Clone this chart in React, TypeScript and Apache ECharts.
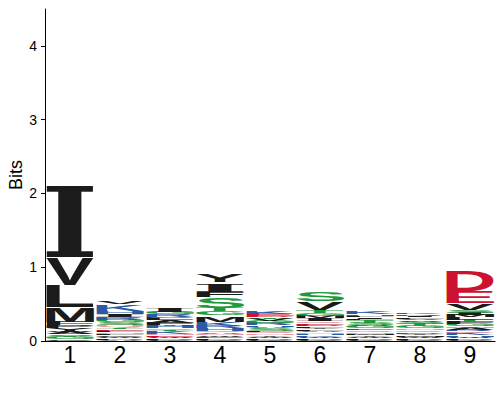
import { useEffect, useRef } from 'react';
import * as echarts from 'echarts';

const positions = ['1', '2', '3', '4', '5', '6', '7', '8', '9'];
const yTickValues = [0, 1, 2, 3, 4];

// letters of each column, bottom to top, with their heights in bits
const col1Letters = ['C', 'G', 'T', 'S', 'A', 'W', 'Y', 'P', 'F', 'M', 'L', 'V', 'I'];
const col1Bits = [0.02, 0.03, 0.02, 0.02, 0.03, 0.02, 0.03, 0.04, 0.05, 0.2, 0.3, 0.38, 0.97];
const col2Letters = ['A', 'P', 'W', 'C', 'L', 'N', 'F', 'E', 'T', 'Q', 'S', 'G', 'R', 'I', 'H', 'K', 'V'];
const col2Bits = [0.02, 0.02, 0.02, 0.02, 0.02, 0.02, 0.02, 0.02, 0.02, 0.04, 0.03, 0.04, 0.04, 0.04, 0.03, 0.1, 0.03];
const col3Letters = ['C', 'P', 'W', 'E', 'N', 'K', 'T', 'Q', 'H', 'Y', 'F', 'A', 'L', 'S', 'R', 'G', 'I'];
const col3Bits = [0.02, 0.02, 0.02, 0.02, 0.02, 0.03, 0.02, 0.02, 0.03, 0.02, 0.03, 0.03, 0.03, 0.02, 0.03, 0.04, 0.05];
const col4Letters = ['C', 'P', 'E', 'W', 'N', 'A', 'Q', 'H', 'R', 'K', 'M', 'G', 'T', 'S', 'F', 'I', 'Y'];
const col4Bits = [0.02, 0.02, 0.02, 0.02, 0.02, 0.02, 0.02, 0.03, 0.04, 0.05, 0.09, 0.05, 0.05, 0.15, 0.07, 0.13, 0.11];
const col5Letters = ['C', 'P', 'W', 'Y', 'N', 'Q', 'F', 'S', 'A', 'H', 'R', 'G', 'V', 'T', 'D', 'E', 'K'];
const col5Bits = [0.02, 0.02, 0.02, 0.02, 0.02, 0.02, 0.02, 0.03, 0.02, 0.02, 0.03, 0.03, 0.03, 0.02, 0.02, 0.03, 0.03];
const col6Letters = ['C', 'P', 'W', 'K', 'H', 'N', 'A', 'F', 'Y', 'L', 'D', 'E', 'Q', 'I', 'M', 'G', 'T', 'V', 'S'];
const col6Bits = [0.02, 0.02, 0.02, 0.02, 0.02, 0.02, 0.02, 0.02, 0.02, 0.02, 0.02, 0.02, 0.03, 0.04, 0.03, 0.04, 0.04, 0.12, 0.13];
const col7Letters = ['C', 'P', 'W', 'Y', 'M', 'N', 'Q', 'E', 'G', 'A', 'S', 'T', 'L', 'I', 'F', 'H', 'K'];
const col7Bits = [0.02, 0.02, 0.02, 0.02, 0.02, 0.02, 0.03, 0.02, 0.03, 0.02, 0.03, 0.03, 0.02, 0.02, 0.02, 0.02, 0.04];
const col8Letters = ['C', 'P', 'W', 'M', 'Y', 'D', 'Q', 'N', 'G', 'T', 'S', 'A', 'V', 'L', 'I', 'R', 'K'];
const col8Bits = [0.02, 0.02, 0.02, 0.02, 0.02, 0.02, 0.03, 0.02, 0.03, 0.03, 0.03, 0.02, 0.02, 0.02, 0.02, 0.02, 0.02];
const col9Letters = ['C', 'P', 'W', 'H', 'K', 'Q', 'R', 'A', 'N', 'G', 'F', 'T', 'L', 'M', 'I', 'S', 'V', 'E', 'D'];
const col9Bits = [0.02, 0.02, 0.02, 0.02, 0.03, 0.02, 0.02, 0.03, 0.02, 0.03, 0.03, 0.03, 0.03, 0.03, 0.03, 0.04, 0.09, 0.16, 0.29];

const columnLetters = [col1Letters, col2Letters, col3Letters, col4Letters, col5Letters, col6Letters, col7Letters, col8Letters, col9Letters];
const columnBits = [col1Bits, col2Bits, col3Bits, col4Bits, col5Bits, col6Bits, col7Bits, col8Bits, col9Bits];

const COLORS: Record<string, string> = {
  A: '#1b1b1b', V: '#1b1b1b', L: '#1b1b1b', I: '#1b1b1b', M: '#1b1b1b', F: '#1b1b1b', W: '#1b1b1b', Y: '#1b1b1b', P: '#1b1b1b', C: '#1b1b1b',
  G: '#1e9a3c', S: '#1e9a3c', T: '#1e9a3c',
  D: '#cc1230', E: '#cc1230',
  K: '#2c5ba6', R: '#2c5ba6', H: '#2c5ba6',
  N: '#e597a5', Q: '#e597a5',
};

const SANS = '"Liberation Sans", Arial, sans-serif';
const SERIF = '"DejaVu Serif", "Liberation Serif", serif';
const FS = 100;
const fontFor = (ch: string) => (ch === 'I' ? SERIF : SANS);

// offset of the alphabetic baseline below the SVG "central" baseline, per font
const baseCache: Record<string, number> = {};
function baseOffset(family: string): number {
  if (baseCache[family] != null) return baseCache[family];
  let off = 0.33 * FS;
  try {
    const ns = 'http://www.w3.org/2000/svg';
    const svg = document.createElementNS(ns, 'svg');
    svg.setAttribute('width', '400');
    svg.setAttribute('height', '400');
    (svg as any).style.position = 'absolute';
    (svg as any).style.left = '-2000px';
    (svg as any).style.top = '0px';
    const t = document.createElementNS(ns, 'text');
    t.setAttribute('x', '200');
    t.setAttribute('y', '200');
    t.setAttribute('dominant-baseline', 'central');
    t.setAttribute('text-anchor', 'middle');
    (t as any).style.font = `bold ${FS}px ${family}`;
    t.textContent = 'H';
    svg.appendChild(t);
    document.body.appendChild(svg);
    const bb = (t as any).getBBox();
    document.body.removeChild(svg);
    const c = document.createElement('canvas').getContext('2d')!;
    c.font = `bold ${FS}px ${family}`;
    c.textBaseline = 'alphabetic';
    const m = c.measureText('H');
    const v = bb.y - 200 + m.fontBoundingBoxAscent;
    if (isFinite(v)) off = v;
  } catch (e) { /* keep fallback */ }
  baseCache[family] = off;
  return off;
}

type M = { L: number; R: number; A: number; D: number; B: number };
const metricCache: Record<string, M> = {};
function metrics(ch: string): M {
  if (metricCache[ch]) return metricCache[ch];
  const c = document.createElement('canvas');
  const ctx = c.getContext('2d')!;
  ctx.font = `bold ${FS}px ${fontFor(ch)}`;
  ctx.textAlign = 'center';
  ctx.textBaseline = 'alphabetic';
  const m = ctx.measureText(ch);
  const r = {
    L: m.actualBoundingBoxLeft,
    R: m.actualBoundingBoxRight,
    A: m.actualBoundingBoxAscent,
    D: m.actualBoundingBoxDescent,
    B: baseOffset(fontFor(ch)),
  };
  metricCache[ch] = r;
  return r;
}

const allLetters: string[] = [];
const seriesData: number[][] = [];
columnLetters.forEach((letters, ci) => {
  let acc = 0;
  letters.forEach((ch, k) => {
    const h = columnBits[ci][k];
    let li = allLetters.indexOf(ch);
    if (li < 0) { allLetters.push(ch); li = allLetters.length - 1; }
    seriesData.push([ci, acc, acc + h, li]);
    acc += h;
  });
});

export default function App() {
  const ref = useRef<HTMLDivElement>(null);
  useEffect(() => {
    const chart = echarts.init(ref.current!, null, { renderer: 'svg' });
    chart.setOption({
      animation: false,
      backgroundColor: '#ffffff',
      grid: { left: 45, right: 5, top: 9, bottom: 59, outerBoundsMode: 'none', containLabel: false },
      xAxis: {
        type: 'category',
        data: positions,
        boundaryGap: true,
        axisLine: { lineStyle: { color: '#000', width: 1 } },
        axisTick: { alignWithLabel: true, length: 4, lineStyle: { color: '#000' } },
        axisLabel: { color: '#000', fontSize: 23, fontFamily: SANS, margin: 2 },
        splitLine: { show: false },
      },
      yAxis: {
        type: 'value',
        min: 0,
        max: 4.5,
        name: 'Bits',
        nameLocation: 'middle',
        nameGap: 20,
        nameMoveOverlap: false,
        nameTextStyle: { color: '#000', fontSize: 18, fontFamily: SANS },
        axisLine: { show: true, lineStyle: { color: '#000', width: 1 } },
        axisTick: { show: true, length: 4, customValues: yTickValues, lineStyle: { color: '#000' } },
        axisLabel: { color: '#000', fontSize: 14, fontFamily: SANS, margin: 8, customValues: yTickValues },
        splitLine: { show: false },
      },
      series: [
        {
          type: 'custom',
          data: seriesData,
          encode: { x: 0, y: [1, 2] },
          renderItem: (_params: any, api: any) => {
            const ci = api.value(0);
            const y0 = api.value(1);
            const y1 = api.value(2);
            const ch = allLetters[api.value(3)];
            const pb = api.coord([ci, y0]);
            const pt = api.coord([ci, y1]);
            const w = api.size([1, 0])[0] * 0.96;
            let top = pt[1];
            let h = pb[1] - pt[1];
            if (h > 6) { top += 1; h -= 1; }
            if (h <= 0.2) return null;
            const m = metrics(ch);
            const sx = w / (m.L + m.R);
            const sy = h / (m.A + m.D);
            return {
              type: 'text',
              x: pb[0] - w / 2 + sx * m.L,
              y: top - sy * (m.B - m.A),
              scaleX: sx,
              scaleY: sy,
              style: {
                text: ch,
                fontSize: FS,
                fontWeight: 'bold',
                fontFamily: fontFor(ch),
                fill: COLORS[ch],
                align: 'center',
                verticalAlign: 'middle',
              },
            };
          },
        },
      ],
    });
    return () => chart.dispose();
  }, []);
  return <div ref={ref} style={{ position: 'fixed', left: 0, top: 0, width: 500, height: 400 }} />;
}
